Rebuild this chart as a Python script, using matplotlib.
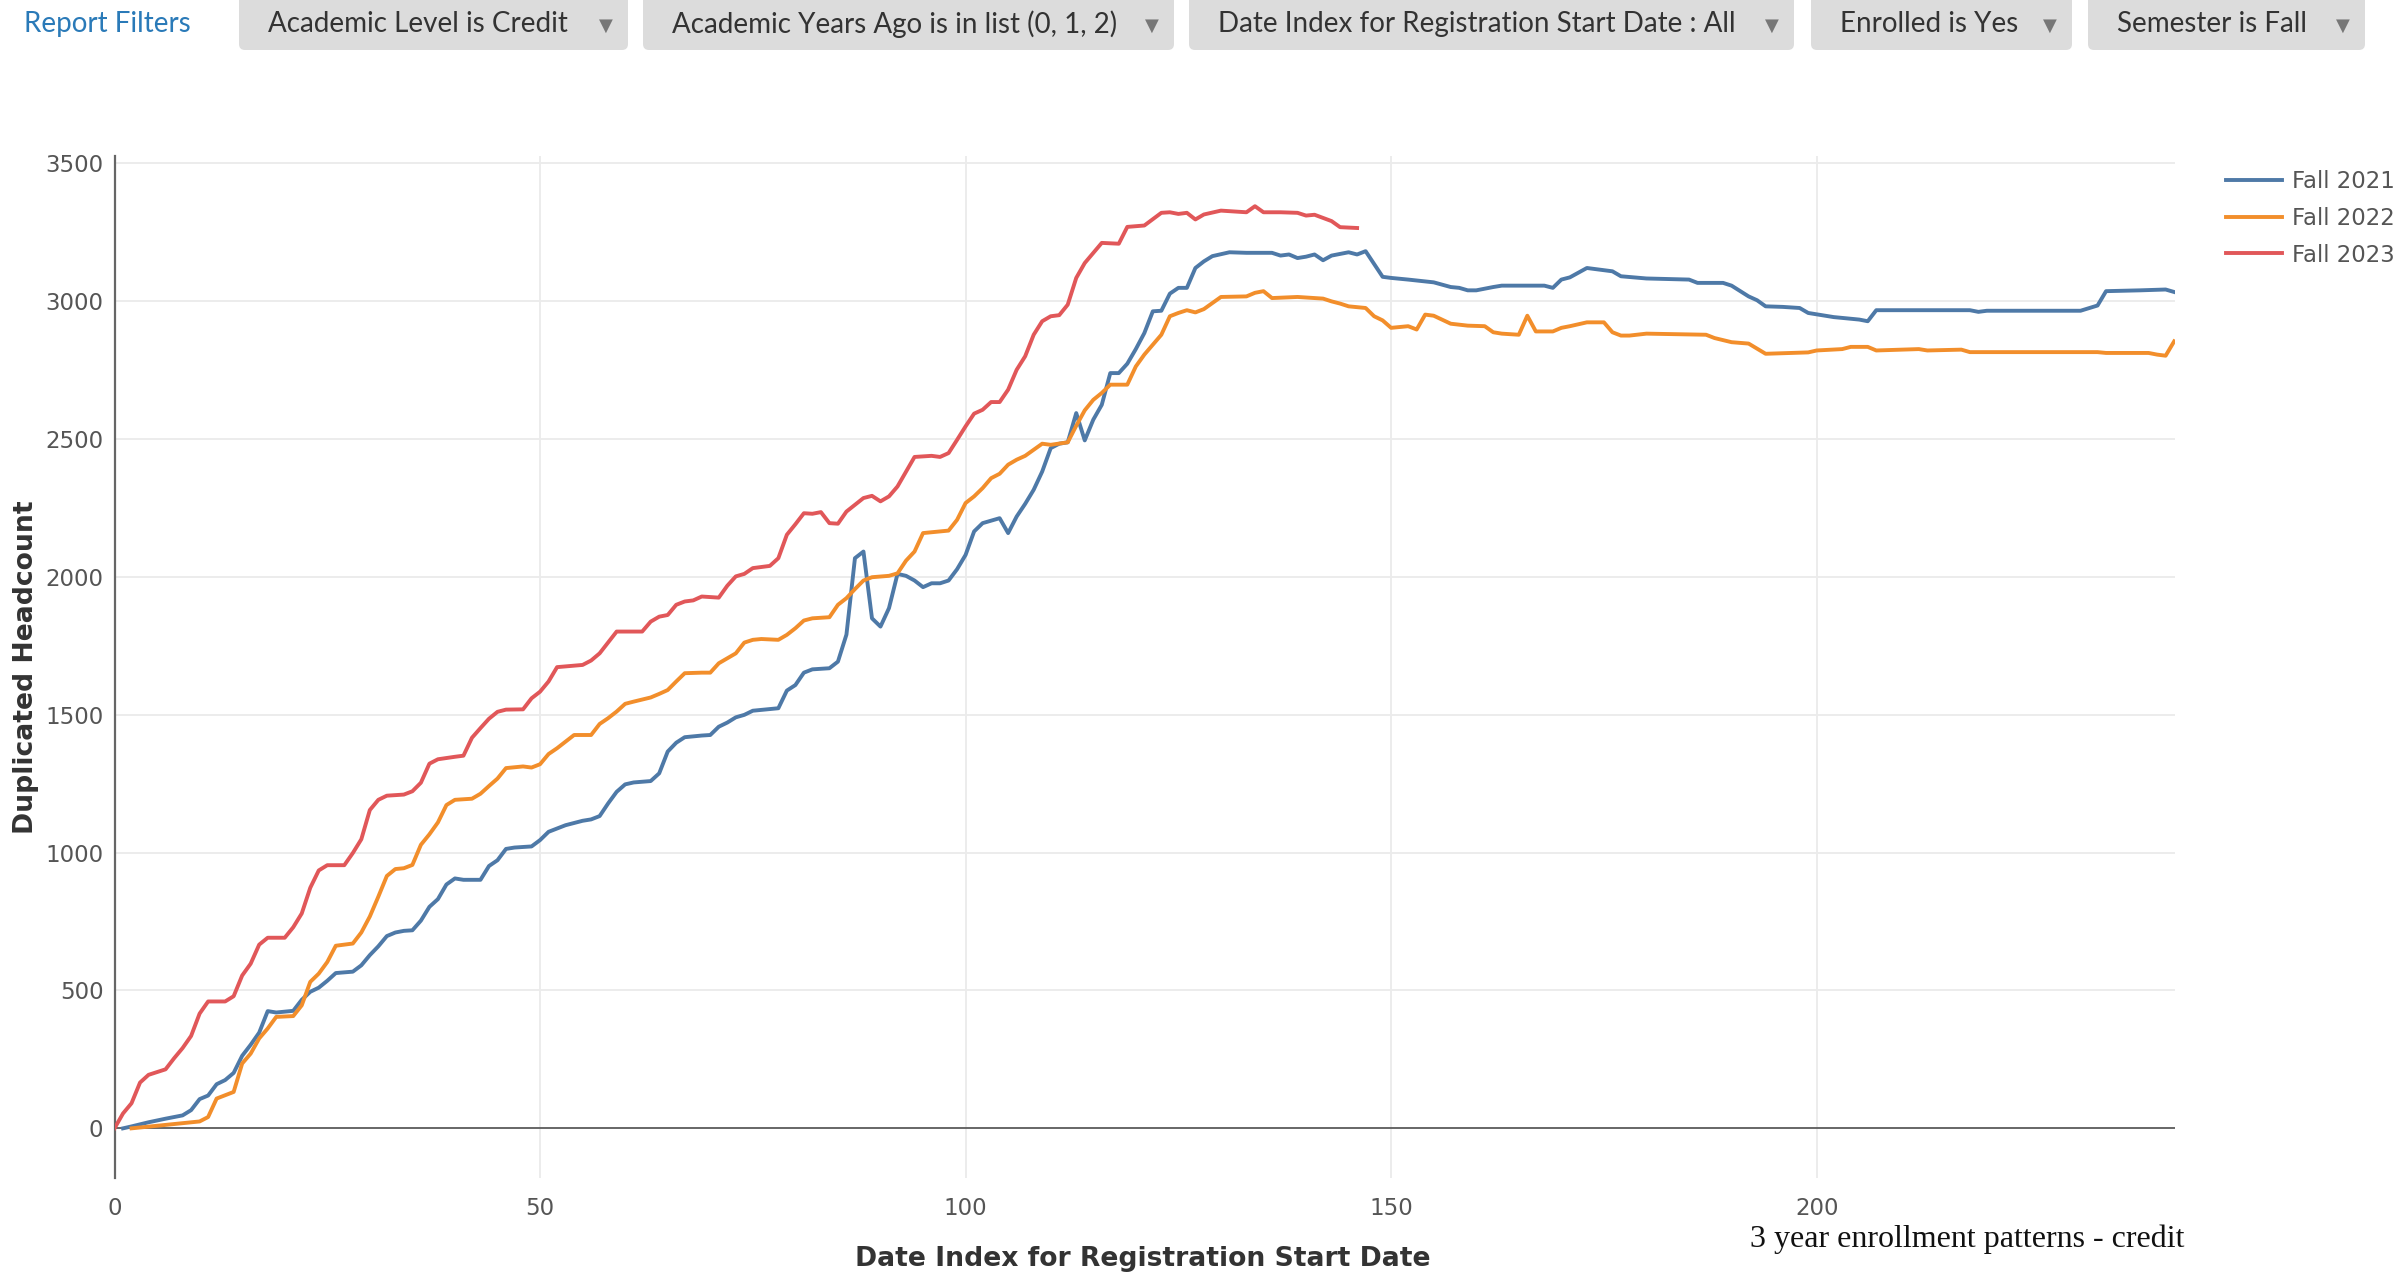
import matplotlib
matplotlib.use("Agg")
import matplotlib.pyplot as plt
from matplotlib.patches import FancyBboxPatch

# ---------------- data ----------------
series_names = ["Fall 2021", "Fall 2022", "Fall 2023"]

fall2021 = [(1,0),(2,7),(4,22),(6,35),(8,47),(9,66),(10,106),(11,119),(12,160),(13,175),(14,201),(15,263),
            (16,303),(17,347),(18,425),(19,420),(21,426),(22,466),(23,495),(24,510),(25,535),(26,563),(28,568),
            (29,591),(30,628),(31,660),(32,697),(33,710),(34,716),(35,718),(36,753),(37,803),(38,831),(39,884),
            (40,906),(41,901),(43,901),(44,951),(45,972),(46,1013),(47,1018),(49,1022),(50,1045),(51,1075),
            (53,1099),(55,1115),(56,1120),(57,1132),(58,1178),(59,1220),(60,1247),(61,1254),(63,1259),(64,1287),
            (65,1366),(66,1398),(67,1418),(69,1424),(70,1426),(71,1456),(72,1471),(73,1490),(74,1499),(75,1514),
            (76,1517),(78,1523),(79,1587),(80,1607),(81,1652),(82,1664),(84,1668),(85,1692),(86,1790),(87,2067),
            (88,2091),(89,1849),(90,1819),(91,1886),(92,2010),(93,2003),(94,1986),(95,1962),(96,1976),(97,1976),
            (98,1986),(99,2027),(100,2079),(101,2164),(102,2194),(104,2212),(105,2158),(106,2218),(107,2264),
            (108,2315),(109,2381),(110,2466),(111,2482),(112,2487),(113,2593),(114,2494),(115,2569),(116,2623),
            (117,2738),(118,2738),(119,2772),(120,2825),(121,2883),(122,2962),(123,2964),(124,3026),(125,3047),
            (126,3047),(127,3119),(128,3143),(129,3162),(131,3176),(133,3174),(136,3174),(137,3164),(138,3168),
            (139,3155),(140,3160),(141,3168),(142,3147),(143,3164),(145,3176),(146,3168),(147,3180),(149,3087),
            (150,3083),(152,3077),(155,3067),(157,3050),(158,3047),(159,3038),(160,3038),(162,3050),(163,3055),
            (168,3055),(169,3047),(170,3077),(171,3085),(173,3119),(175,3111),(176,3107),(177,3089),(180,3081),
            (185,3077),(186,3065),(189,3065),(190,3055),(192,3016),(193,3002),(194,2980),(196,2978),(198,2974),
            (199,2956),(202,2941),(205,2932),(206,2926),(207,2966),(218,2966),(219,2960),(220,2964),(231,2964),
            (233,2983),(234,3035),(238,3038),(241,3041),(242,3032)]

fall2022 = [(2,0),(10,25),(11,41),(12,108),(14,132),(15,235),(16,271),(17,326),(18,362),(19,404),(21,407),
            (22,446),(23,531),(24,561),(25,603),(26,662),(28,670),(29,710),(30,768),(31,840),(32,915),(33,940),
            (34,943),(35,955),(36,1028),(37,1066),(38,1109),(39,1172),(40,1191),(42,1195),(43,1213),(44,1241),
            (45,1268),(46,1306),(48,1312),(49,1308),(50,1320),(51,1357),(52,1378),(53,1402),(54,1426),(56,1426),
            (57,1466),(58,1487),(59,1511),(60,1539),(61,1547),(63,1562),(64,1575),(65,1589),(66,1620),(67,1650),
            (69,1652),(70,1652),(71,1686),(72,1704),(73,1722),(74,1761),(75,1771),(76,1774),(78,1771),(79,1789),
            (80,1813),(81,1841),(82,1849),(84,1853),(85,1898),(86,1922),(87,1955),(88,1986),(89,1998),(91,2003),
            (92,2012),(93,2058),(94,2091),(95,2158),(98,2167),(99,2206),(100,2267),(101,2291),(102,2321),
            (103,2357),(104,2373),(105,2406),(106,2424),(107,2438),(109,2482),(110,2478),(112,2487),(113,2547),
            (114,2603),(115,2641),(116,2666),(117,2696),(119,2696),(120,2762),(121,2805),(122,2841),(123,2877),
            (124,2944),(125,2956),(126,2966),(127,2958),(128,2970),(129,2992),(130,3014),(133,3016),(134,3029),
            (135,3035),(136,3010),(139,3014),(141,3010),(142,3008),(143,2998),(144,2990),(145,2980),(147,2974),
            (148,2944),(149,2929),(150,2902),(152,2908),(153,2896),(154,2950),(155,2946),(157,2917),(159,2910),
            (161,2908),(162,2886),(163,2881),(165,2877),(166,2946),(167,2889),(169,2889),(170,2902),(171,2908),
            (173,2922),(175,2922),(176,2886),(177,2874),(178,2874),(180,2881),(187,2877),(188,2865),(190,2850),
            (192,2845),(194,2808),(199,2813),(200,2820),(203,2825),(204,2833),(206,2833),(207,2820),(212,2825),
            (213,2820),(217,2823),(218,2814),(233,2814),(234,2811),(239,2811),(240,2805),(241,2801),(242,2853)]

fall2023 = [(0,0),(1,54),(2,91),(3,166),(4,194),(6,214),(7,254),(8,291),(9,335),(10,416),(11,460),(13,460),
            (14,479),(15,554),(16,597),(17,666),(18,691),(20,691),(21,729),(22,779),(23,872),(24,935),(25,954),
            (27,954),(28,998),(29,1048),(30,1154),(31,1191),(32,1206),(34,1210),(35,1222),(36,1253),(37,1322),
            (38,1338),(40,1347),(41,1351),(42,1416),(43,1451),(44,1485),(45,1510),(46,1518),(48,1519),(49,1559),
            (50,1583),(51,1620),(52,1672),(55,1680),(56,1696),(57,1722),(59,1801),(62,1801),(63,1837),(64,1855),
            (65,1861),(66,1898),(67,1910),(68,1914),(69,1928),(71,1924),(72,1967),(73,2001),(74,2010),(75,2031),
            (77,2039),(78,2067),(79,2152),(80,2190),(81,2230),(82,2228),(83,2234),(84,2194),(85,2192),(86,2236),
            (88,2285),(89,2293),(90,2273),(91,2291),(92,2327),(94,2434),(96,2438),(97,2434),(98,2448),(99,2496),
            (100,2545),(101,2591),(102,2605),(103,2633),(104,2633),(105,2678),(106,2750),(107,2799),(108,2877),
            (109,2926),(110,2944),(111,2948),(112,2986),(113,3083),(114,3137),(116,3210),(118,3207),(119,3268),
            (121,3273),(123,3319),(124,3321),(125,3315),(126,3319),(127,3295),(128,3313),(130,3327),(133,3321),
            (134,3343),(135,3321),(137,3321),(139,3319),(140,3309),(141,3312),(143,3289),(144,3267),(146,3264)]

x_ticks = [0, 50, 100, 150, 200]
y_ticks = [0, 500, 1000, 1500, 2000, 2500, 3000, 3500]

filter_labels = ["Academic Level is Credit",
                 "Academic Years Ago is in list (0, 1, 2)",
                 "Date Index for Registration Start Date : All",
                 "Enrolled is Yes",
                 "Semester is Fall"]

# ---------------- style ----------------
colors = ["#4e79a7", "#f28e2b", "#e15759"]
W, H = 2400, 1275
fig = plt.figure(figsize=(W / 100, H / 100), dpi=100)
fig.patch.set_facecolor("white")

left, right = 114.5 / W, 2175 / W
bottom, top = 1 - 1178 / H, 1 - 156 / H
ax = fig.add_axes([left, bottom, right - left, top - bottom])

for data, name, c in zip([fall2021, fall2022, fall2023], series_names, colors):
    xs = [p[0] for p in data]
    ys = [p[1] for p in data]
    ax.plot(xs, ys, color=c, lw=2.8, label=name, solid_joinstyle="round", zorder=3)

ax.set_xlim(0, 242.1)
ax.set_ylim(-180, 3525)
ax.set_xticks(x_ticks)
ax.set_yticks(y_ticks)
ax.tick_params(axis="both", length=0, labelsize=16.5, labelcolor="#555555")
ax.tick_params(axis="y", pad=8)
ax.tick_params(axis="x", pad=14)
for s in ["top", "right", "bottom"]:
    ax.spines[s].set_visible(False)
ax.spines["left"].set_color("#666666")
ax.spines["left"].set_linewidth(1.6)
for yv in y_ticks[1:]:
    ax.axhline(yv, color="#ebebeb", lw=1.3, zorder=0)
for xv in x_ticks[1:]:
    ax.axvline(xv, color="#ebebeb", lw=1.3, zorder=0)
ax.axhline(0, color="#666666", lw=1.4, zorder=2)

leg = ax.legend(loc="upper left", bbox_to_anchor=(2226 / W, 1 - 170 / H),
                bbox_transform=fig.transFigure, frameon=False, fontsize=16.5,
                handlelength=2.45, handletextpad=0.42, labelspacing=0.6,
                borderaxespad=0, borderpad=0)
for t in leg.get_texts():
    t.set_color("#555555")

fig.text(26 / W, 1 - 667 / H, "Duplicated Headcount", rotation=90, ha="center", va="center",
         fontsize=19.2, fontweight="bold", family="DejaVu Sans", color="#333333")
fig.text(1143 / W, 1 - 1259 / H, "Date Index for Registration Start Date", ha="center", va="center",
         fontsize=19.2, fontweight="bold", family="DejaVu Sans", color="#333333")
fig.text(2184 / W, 1 - 1239 / H, "3 year enrollment patterns - credit", ha="right", va="center",
         fontsize=23, family="Liberation Serif", color="#111111")

# ---------------- header filter bar ----------------
hdr = fig.add_axes([0, 0, 1, 1], zorder=5)
hdr.set_xlim(0, W)
hdr.set_ylim(H, 0)
hdr.axis("off")
hdr.patch.set_visible(False)

hdr.text(24, 24, "Report Filters", ha="left", va="center", fontsize=20, family="Lato", color="#2a7ab8")
box_spans = [(239, 628), (643, 1174), (1189, 1794), (1811, 2072), (2088, 2365)]
for (x0, x1), lab in zip(box_spans, filter_labels):
    hdr.add_patch(FancyBboxPatch((x0, -20), x1 - x0, 70, boxstyle="round,pad=0,rounding_size=6",
                                 fc="#dcdcdc", ec="none"))
    hdr.text(x0 + 29, 24, lab, ha="left", va="center", fontsize=20, family="Lato", color="#333333")
    hdr.text(x1 - 22, 26, "\u25BC", ha="center", va="center", fontsize=13, family="DejaVu Sans",
             color="#777777")

fig.savefig("out.png", dpi=100)
